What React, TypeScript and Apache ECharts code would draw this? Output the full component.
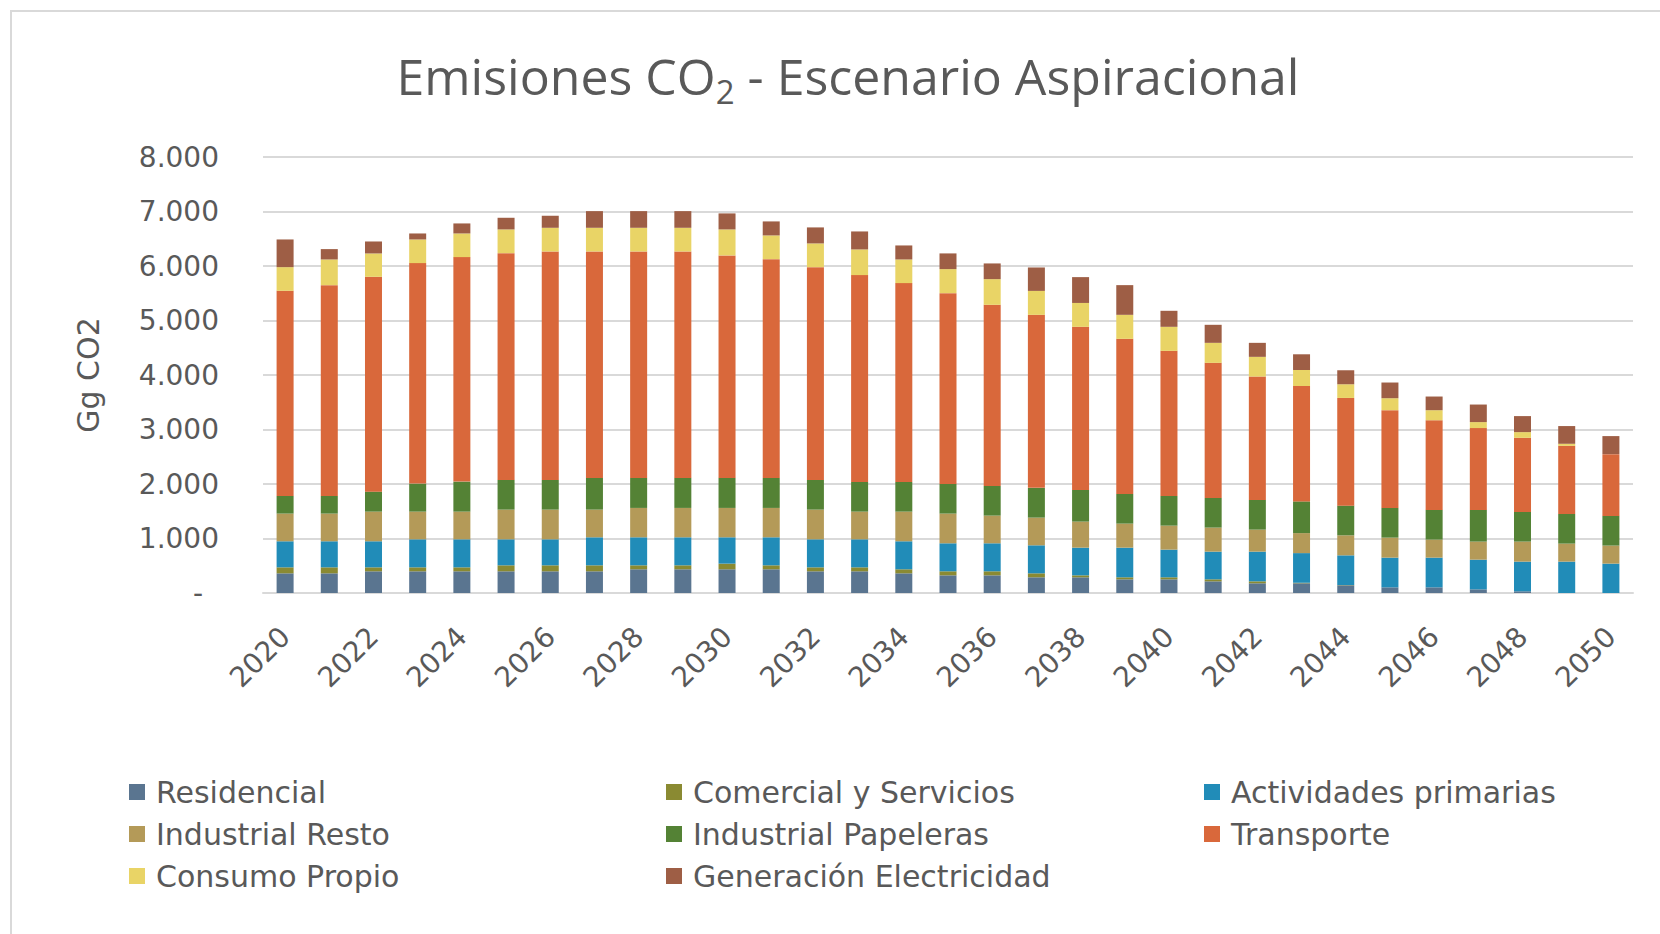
import React, { useEffect, useRef } from "react";
import * as echarts from "echarts";

const years = [
  "2020","2021","2022","2023","2024","2025","2026","2027","2028","2029","2030",
  "2031","2032","2033","2034","2035","2036","2037","2038","2039","2040",
  "2041","2042","2043","2044","2045","2046","2047","2048","2049","2050",
];

const residencial = [361,361,398,398,398,398,398,398,435,435,435,435,398,398,361,324,324,288,288,251,251,214,178,178,141,104,104,67,31,0,0];
const comercial = [110,110,73,73,73,110,110,110,73,73,104,73,73,73,74,74,74,73,36,37,37,37,36,10,5,0,0,0,0,0,0];
const actividades = [478,478,478,514,514,477,477,514,514,514,483,514,514,514,514,514,514,514,508,544,508,508,545,544,545,545,545,545,545,576,539];
const industrialResto = [508,508,544,508,508,545,545,508,539,539,539,539,545,508,544,545,508,508,478,441,440,441,404,367,367,367,331,331,367,330,331];
const papeleras = [324,324,367,514,551,545,545,582,551,551,551,551,545,545,545,544,545,546,581,545,545,544,545,582,545,545,545,582,545,545,545];
const transporte = [3764,3868,3942,4046,4119,4161,4192,4155,4155,4155,4082,4014,3904,3795,3648,3501,3323,3175,2993,2846,2662,2479,2264,2117,1976,1793,1645,1501,1360,1250,1133];
const consumo = [434,471,428,434,434,435,434,434,434,434,477,435,435,471,434,441,471,439,438,440,441,367,361,294,251,220,184,110,104,37,0];
const generacion = [508,190,220,110,184,214,221,306,306,306,294,257,294,330,257,288,288,430,474,545,294,331,257,288,257,288,251,322,294,325,331];

const seriesNames = [
  "Residencial",
  "Comercial y Servicios",
  "Actividades primarias",
  "Industrial Resto",
  "Industrial Papeleras",
  "Transporte",
  "Consumo Propio",
  "Generación Electricidad",
];
const seriesData = [residencial, comercial, actividades, industrialResto, papeleras, transporte, consumo, generacion];
const seriesColors = ["#5A7590", "#8A8A32", "#218CB8", "#B49A58", "#548235", "#D9683B", "#E9D466", "#9E5E45"];

const legendCols = [
  ["Residencial", "Industrial Resto", "Consumo Propio"],
  ["Comercial y Servicios", "Industrial Papeleras", "Generación Electricidad"],
  ["Actividades primarias", "Transporte"],
];
const legendLefts = [124, 661, 1199];

const TEXT = "#595959";
const FONT = "DejaVu Sans";

export default function App() {
  const ref = useRef<HTMLDivElement>(null);
  useEffect(() => {
    if (!ref.current) return;
    const chart = echarts.init(ref.current, undefined, { renderer: "svg" });
    const fmt = (v: number) => {
      if (v === 0) return "{z|-}";
      return String(v).replace(/\B(?=(\d{3})+(?!\d))/g, ".");
    };
    chart.setOption({
      animation: false,
      backgroundColor: "#ffffff",
      graphic: [
        {
          type: "rect",
          shape: { x: 11, y: 11, width: 1700, height: 1000 },
          style: { fill: "none", stroke: "#d9d9d9", lineWidth: 2 },
          silent: true,
        },
        {
          type: "text",
          x: 848,
          y: 76,
          style: {
            text: "Emisiones CO{sub|2} - Escenario Aspiracional",
            fill: TEXT,
            fontFamily: "Open Sans",
            fontSize: 50,
            align: "center",
            verticalAlign: "middle",
            rich: {
              sub: { fontSize: 33, fontFamily: "Open Sans", fill: TEXT, padding: [31, 0, 0, 0] },
            },
          },
        },
      ],
      legend: legendCols.map((items, i) => ({
        data: items,
        orient: "vertical",
        left: legendLefts[i],
        top: 772,
        itemWidth: 16,
        itemHeight: 16,
        itemGap: 12,
        icon: "rect",
        selectedMode: false,
        textStyle: { color: TEXT, fontSize: 30, fontFamily: FONT, lineHeight: 30, padding: [0, 0, 0, 6] },
      })),
      grid: { left: 263, right: 27, top: 157, bottom: 341, containLabel: false },
      xAxis: {
        type: "category",
        data: years,
        axisTick: { show: false },
        axisLine: { lineStyle: { color: "#d9d9d9", width: 2 } },
        axisLabel: {
          interval: 1,
          rotate: 45,
          margin: 39,
          color: TEXT,
          fontSize: 28,
          fontFamily: FONT,
        },
      },
      yAxis: {
        type: "value",
        min: 0,
        max: 8000,
        interval: 1000,
        name: "Gg CO2",
        nameLocation: "middle",
        nameRotate: 90,
        nameGap: 160,
        nameTextStyle: { color: TEXT, fontSize: 30, fontFamily: FONT },
        axisLine: { show: false },
        axisTick: { show: false },
        splitLine: { lineStyle: { color: "#d9d9d9", width: 2 } },
        axisLabel: {
          margin: 44,
          color: TEXT,
          fontSize: 28,
          fontFamily: FONT,
          formatter: fmt,
          rich: { z: { fontSize: 28, fontFamily: FONT, color: TEXT, padding: [0, 16, 0, 0] } },
        },
      },
      series: seriesNames.map((name, i) => ({
        name,
        type: "bar",
        stack: "total",
        barWidth: 17,
        data: seriesData[i],
        itemStyle: { color: seriesColors[i] },
        emphasis: { disabled: true },
      })),
    });
    return () => chart.dispose();
  }, []);
  return (
    <div
      ref={ref}
      style={{ position: "absolute", left: 0, top: 0, width: 1660, height: 934 }}
    />
  );
}
